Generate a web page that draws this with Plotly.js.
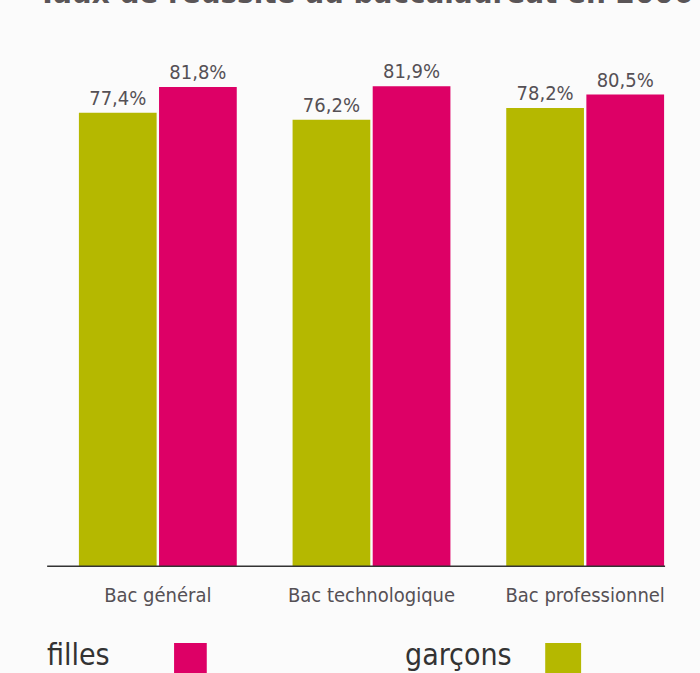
<!DOCTYPE html>
<html>
<head>
<meta charset="utf-8">
<script src="https://cdn.plot.ly/plotly-3.0.1.min.js"></script>
<style>html,body{margin:0;padding:0;background:#fbfbfb;}#chart{width:700px;height:673px;}</style>
</head>
<body>
<div id="chart"></div>
<script>
var categories = ["Bac général", "Bac technologique", "Bac professionnel"];
var garconsValues = [77.4, 76.2, 78.2];
var fillesValues = [81.8, 81.9, 80.5];
var garconsLabels = ["77,4%", "76,2%", "78,2%"];
var fillesLabels = ["81,8%", "81,9%", "80,5%"];
var seriesNames = ["filles", "garçons"];
var titleText = "Taux de réussite au baccalauréat en 2006";

var green = "#b5b800";
var pink = "#dd0066";
var narrow = "DejaVu Sans Condensed, Liberation Sans Narrow, sans-serif";

var traces = [
  {type: "bar", name: seriesNames[1], x: categories, y: garconsValues, text: garconsLabels,
   textposition: "outside", cliponaxis: false, marker: {color: green},
   textfont: {family: narrow, size: 20, color: "#555055"}},
  {type: "bar", name: seriesNames[0], x: categories, y: fillesValues, text: fillesLabels,
   textposition: "outside", cliponaxis: false, marker: {color: pink},
   textfont: {family: narrow, size: 20, color: "#555055"}}
];

var layout = {
  width: 700, height: 673,
  paper_bgcolor: "#fbfbfb", plot_bgcolor: "#fbfbfb",
  margin: {l: 51, r: 8, t: 40, b: 106},
  showlegend: false,
  barmode: "group", bargap: 0.25, bargroupgap: 0.03,
  xaxis: {showgrid: false, zeroline: false, showline: false, ticks: "", ticklabelstandoff: 14,
          tickfont: {family: narrow, size: 20, color: "#555055"}, fixedrange: true},
  yaxis: {range: [0, 89.8], visible: false, fixedrange: true},
  shapes: [
    {type: "line", xref: "paper", yref: "y", x0: -0.006, x1: 0.958, y0: 0, y1: 0,
     line: {color: "#333", width: 3}},
    {type: "rect", xref: "paper", yref: "paper", x0: 0.192, x1: 0.243, y0: -0.144, y1: -0.205,
     fillcolor: pink, line: {width: 0}},
    {type: "rect", xref: "paper", yref: "paper", x0: 0.771, x1: 0.827, y0: -0.144, y1: -0.205,
     fillcolor: green, line: {width: 0}}
  ],
  annotations: [
    {xref: "paper", yref: "paper", x: 0.49, y: 1 + 28/527, xanchor: "center", yanchor: "bottom",
     text: "<b>" + titleText + "</b>", showarrow: false,
     font: {family: narrow, size: 31, color: "#5a5557"}},
    {xref: "paper", yref: "paper", x: -0.0094, y: -0.166, xanchor: "left", yanchor: "middle",
     text: seriesNames[0], showarrow: false, font: {family: narrow, size: 30, color: "#333"}},
    {xref: "paper", yref: "paper", x: 0.549, y: -0.166, xanchor: "left", yanchor: "middle",
     text: seriesNames[1], showarrow: false, font: {family: narrow, size: 30, color: "#333"}}
  ]
};

Plotly.newPlot("chart", traces, layout, {displayModeBar: false, staticPlot: true});
</script>
</body>
</html>
